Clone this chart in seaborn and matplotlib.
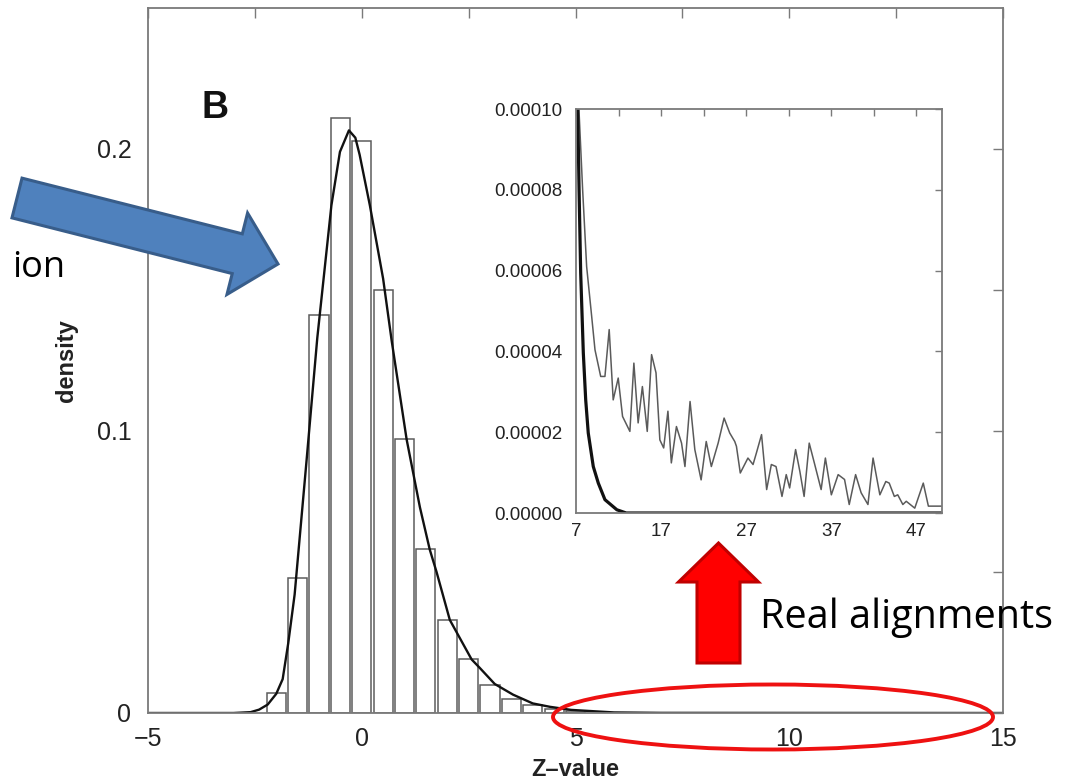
import numpy as np
import pandas as pd
import matplotlib
matplotlib.use("Agg")
import matplotlib.pyplot as plt
import seaborn as sns
from matplotlib.patches import Polygon, Ellipse

# ---------------- data ----------------
bin_centers = [-2.0, -1.5, -1.0, -0.5, 0.0, 0.5, 1.0, 1.5, 2.0, 2.5, 3.0, 3.5, 4.0, 4.5, 5.0]
bin_heights = [0.007, 0.048, 0.141, 0.211, 0.203, 0.150, 0.097, 0.058, 0.033, 0.019,
               0.010, 0.005, 0.0029, 0.0013, 0.0006]

curve_z = [-5.0, -3.0, -2.6, -2.4, -2.2, -2.0, -1.85, -1.72, -1.57, -1.3, -1.04, -0.71,
           -0.51, -0.3, -0.15, -0.05, 0.19, 0.5, 0.7, 1.05, 1.36, 1.59, 1.75, 2.06, 2.57,
           2.76, 3.11, 3.54, 4.0, 4.4, 4.9, 5.9, 7.0, 15.0]
curve_d = [0.0, 0.0, 0.0003, 0.0012, 0.003, 0.0068, 0.012, 0.0247, 0.042, 0.088, 0.133, 0.180,
           0.199, 0.2066, 0.204, 0.198, 0.180, 0.154, 0.132, 0.097, 0.073, 0.058, 0.050, 0.033, 0.019,
           0.016, 0.0103, 0.0065, 0.0034, 0.0022, 0.0011, 0.0002, 0.00005, 0.0]

inset_fit_x = [7.0, 7.2, 7.36, 7.55, 7.86, 8.14, 8.44, 9.03, 9.62, 10.4, 11.8, 12.9, 50.0]
inset_fit_y = [1.3e-4, 1.0e-4, 0.8e-4, 0.594e-4, 0.396e-4, 0.28e-4, 0.198e-4, 0.115e-4,
               0.074e-4, 0.033e-4, 0.008e-4, 0.0, 0.0]

inset_real_x = [7.1, 7.3, 7.78, 8.25, 8.84, 9.23, 9.9, 10.4, 10.9, 11.37, 11.96, 12.47, 13.33,
                13.8, 14.3, 14.8, 15.37, 15.88, 16.4, 16.85, 17.3, 17.8, 18.2, 18.8, 19.4, 19.8,
                20.4, 20.96, 21.7, 22.3, 22.9, 23.7, 24.4, 25.06, 25.65, 25.85, 26.3, 27.2, 27.8,
                28.2, 28.8, 29.4, 29.95, 30.5, 31.2, 31.7, 32.1, 32.8, 33.3, 33.8, 34.4, 35.0,
                35.8, 36.3, 37.0, 37.8, 38.55, 39.1, 39.85, 40.5, 41.3, 41.9, 42.7, 43.4, 43.8,
                44.4, 44.8, 45.4, 45.8, 46.8, 47.8, 48.4, 50.0]
inset_real_y = [1.3e-4, 1.02e-4, 0.8e-4, 0.61e-4, 0.487e-4, 0.404e-4, 0.338e-4, 0.338e-4, 0.454e-4,
                0.28e-4, 0.334e-4, 0.239e-4, 0.202e-4, 0.371e-4, 0.223e-4, 0.313e-4, 0.202e-4,
                0.392e-4, 0.347e-4, 0.181e-4, 0.161e-4, 0.252e-4, 0.124e-4, 0.214e-4, 0.173e-4,
                0.115e-4, 0.276e-4, 0.157e-4, 0.082e-4, 0.177e-4, 0.115e-4, 0.173e-4, 0.235e-4,
                0.198e-4, 0.177e-4, 0.165e-4, 0.099e-4, 0.136e-4, 0.12e-4, 0.149e-4, 0.194e-4,
                0.058e-4, 0.12e-4, 0.115e-4, 0.041e-4, 0.095e-4, 0.062e-4, 0.157e-4, 0.103e-4,
                0.041e-4, 0.173e-4, 0.124e-4, 0.058e-4, 0.136e-4, 0.045e-4, 0.095e-4, 0.083e-4,
                0.021e-4, 0.095e-4, 0.05e-4, 0.021e-4, 0.136e-4, 0.045e-4, 0.078e-4, 0.074e-4,
                0.041e-4, 0.045e-4, 0.021e-4, 0.029e-4, 0.012e-4, 0.074e-4, 0.017e-4, 0.017e-4]

main_xticks = [-5, -2.5, 0, 2.5, 5, 7.5, 10, 12.5, 15]
main_xticklabels = ["\u22125", "", "0", "", "5", "", "10", "", "15"]
main_yticks = [0, 0.05, 0.1, 0.15, 0.2]
main_yticklabels = ["0", "", "0.1", "", "0.2"]
inset_xticks = [7, 12, 17, 22, 27, 32, 37, 42, 47]
inset_xticklabels = ["7", "", "17", "", "27", "", "37", "", "47"]
inset_yticks = [0.0, 0.00002, 0.00004, 0.00006, 0.00008, 0.00010]
inset_yticklabels = ["0.00000", "0.00002", "0.00004", "0.00006", "0.00008", "0.00010"]

# ---------------- figure ----------------
sns.set_theme(style="white")
plt.rcParams["font.family"] = ["Liberation Sans", "DejaVu Sans"]

W, H = 1075, 780
fig = plt.figure(figsize=(W / 100, H / 100), dpi=100)
fig.patch.set_facecolor("white")

def fx(px):
    return px / W

def fy(py):
    return 1 - py / H

ax = fig.add_axes([fx(148), fy(713), fx(1003) - fx(148), fy(8) - fy(713)])
spine_col = "#7a7a7a"

edges = [c - 0.25 for c in bin_centers] + [bin_centers[-1] + 0.25]
sns.histplot(x=bin_centers, weights=bin_heights, bins=edges, stat="count",
             fill=True, color="white", edgecolor="#5c5c5c", linewidth=1.1,
             shrink=0.9, alpha=1, ax=ax)
sns.lineplot(x=curve_z, y=curve_d, color="#111111", linewidth=1.7, ax=ax, sort=False)

ax.set_xlim(-5, 15)
ax.set_ylim(0, 0.25)
ax.set_xticks(main_xticks)
ax.set_xticklabels(main_xticklabels)
ax.set_yticks(main_yticks)
ax.set_yticklabels(main_yticklabels)
ax.tick_params(direction="in", top=True, right=True, length=7, width=1.0,
               color=spine_col, labelcolor="#222222", labelsize=18)
ax.tick_params(axis="x", pad=10)
ax.tick_params(axis="y", pad=12)
for s in ax.spines.values():
    s.set_color(spine_col)
    s.set_linewidth(1.3)
ax.set_xlabel("Z\u2013value", fontsize=17, fontweight="bold", color="#222222")
ax.set_ylabel("density", fontsize=17, fontweight="bold", color="#222222")
ax.xaxis.set_label_coords(0.5, -0.064)
ax.yaxis.set_label_coords(-0.082, 0.5)

fig.text(fx(202), fy(118), "B", fontsize=27, fontweight="bold", color="#111111",
         ha="left", va="baseline")

# ---------------- inset ----------------
axi = fig.add_axes([fx(576), fy(513), fx(942) - fx(576), fy(109) - fy(513)])
sns.lineplot(x=inset_real_x, y=inset_real_y, color="#5a5a5a", linewidth=1.1, ax=axi, sort=False)
sns.lineplot(x=inset_fit_x, y=inset_fit_y, color="#111111", linewidth=2.3, ax=axi, sort=False)
axi.set_xlim(7, 50)
axi.set_ylim(0, 0.0001)
axi.set_xticks(inset_xticks)
axi.set_xticklabels(inset_xticklabels)
axi.set_yticks(inset_yticks)
axi.set_yticklabels(inset_yticklabels)
axi.tick_params(direction="in", top=True, right=True, length=5, width=1.0,
                color=spine_col, labelcolor="#222222", labelsize=13.5)
axi.tick_params(axis="x", pad=7)
axi.tick_params(axis="y", pad=10)
for s in axi.spines.values():
    s.set_color(spine_col)
    s.set_linewidth(1.3)
axi.set_xlabel("")
axi.set_ylabel("")

# ---------------- slide annotations ----------------
def arrow_poly(tail, tip, shaft_hw, head_hw, head_len):
    t = np.array(tail, float)
    p = np.array(tip, float)
    u = (p - t) / np.linalg.norm(p - t)
    n = np.array([-u[1], u[0]])
    b = p - head_len * u
    pts = [t + shaft_hw * n, b + shaft_hw * n, b + head_hw * n, p,
           b - head_hw * n, b - shaft_hw * n, t - shaft_hw * n]
    return [(fx(q[0]), fy(q[1])) for q in pts]

blue = Polygon(arrow_poly((17, 198), (278, 264), 20.5, 42, 42), closed=True,
               transform=fig.transFigure, facecolor="#4F81BD", edgecolor="#385D8A",
               linewidth=2.2, zorder=10)
fig.patches.append(blue)

red = Polygon(arrow_poly((718.5, 663), (718.5, 543), 21.5, 40, 39), closed=True,
              transform=fig.transFigure, facecolor="#FF0000", edgecolor="#C00000",
              linewidth=2.2, zorder=10)
fig.patches.append(red)

ell = Ellipse((fx(773), fy(717)), width=fx(440), height=65 / H, transform=fig.transFigure,
              facecolor="none", edgecolor="#EE1111", linewidth=2.8, zorder=10)
fig.patches.append(ell)

fig.text(fx(760), fy(628), "Real alignments", fontsize=28.5, family=["Open Sans", "DejaVu Sans"],
         color="black", ha="left", va="baseline")
fig.text(fx(12), fy(277), "ion", fontsize=26, family=["Open Sans", "DejaVu Sans"],
         color="black", ha="left", va="baseline")

fig.savefig("out.png", dpi=100)
